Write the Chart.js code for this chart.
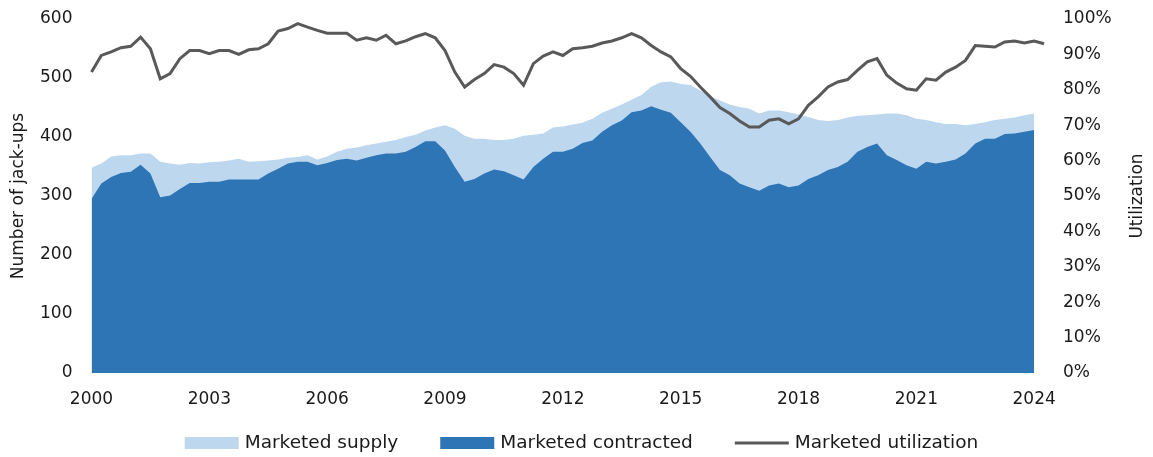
<!DOCTYPE html>
<html>
<head>
<meta charset="utf-8">
<script src="https://cdn.jsdelivr.net/npm/chart.js@4"></script>
<style>
  html, body { margin: 0; padding: 0; background: #fff; }
  #wrap { width: 1153px; height: 457px; position: relative; }
</style>
</head>
<body>
<div id="wrap"><canvas id="chart"></canvas></div>
<script>
/* Jack-up fleet: marketed supply vs contracted, plus utilization (quarterly) */

const FONT = "Verdana, 'DejaVu Sans', sans-serif";
const C = { supply: "#BDD7EE", contracted: "#2E75B6", util: "#595959", ink: "#1a1a1a" };

// quarters 2000Q1 .. 2024Q2
const QUARTERS = [];
for (let y = 2000; y <= 2024; y++) {
  for (let q = 1; q <= 4; q++) {
    if (y === 2024 && q > 2) break;
    QUARTERS.push(y + " Q" + q);
  }
}
const YEAR_TICKS = ["2000", "2003", "2006", "2009", "2012", "2015", "2018", "2021", "2024"];

// number of jack-ups, marketed supply (ends 2024 Q1)
const SUPPLY = [
  348, 355, 367, 369, 369, 372, 372, 358, 355, 353, 356, 355, 357, 358,
  360, 363, 358, 359, 360, 362, 365, 366, 369, 362, 367, 375, 380, 382,
  386, 389, 392, 395, 400, 404, 411, 416, 420, 414, 402, 397, 397, 395,
  395, 397, 402, 404, 406, 416, 418, 421, 424, 431, 441, 448, 455, 463,
  471, 485, 493, 494, 490, 488, 479, 469, 462, 455, 451, 448, 440, 445,
  445, 442, 438, 434, 429, 427, 429, 433, 436, 437, 438, 440, 440, 437,
  431, 429, 425, 422, 422, 420, 422, 425, 429, 431, 433, 437, 440, null,
];

// number of jack-ups, marketed contracted
const CONTRACTED = [
  295, 321, 332, 339, 341, 353, 338, 298, 301, 312, 322, 322, 324, 324,
  328, 328, 328, 328, 338, 346, 355, 358, 358, 352, 356, 361, 363, 360,
  365, 369, 372, 372, 375, 383, 393, 393, 377, 349, 324, 329, 338, 345,
  342, 335, 328, 349, 363, 375, 375, 380, 390, 394, 409, 420, 428, 442,
  445, 452, 446, 441, 425, 409, 389, 366, 344, 335, 321, 315, 309, 318,
  321, 315, 318, 329, 335, 344, 349, 358, 375, 383, 389, 369, 361, 352,
  346, 358, 355, 358, 362, 372, 389, 397, 397, 405, 406, 409, 412, null,
];

// marketed utilization, %
const UTILIZATION = [
  85.0, 89.7, 90.7, 91.9, 92.3, 94.9, 91.6, 83.1, 84.6, 88.8, 91.1, 91.1, 90.2, 91.1,
  91.1, 90.0, 91.3, 91.6, 93.0, 96.6, 97.3, 98.7, 97.7, 96.8, 96.0, 96.0, 96.0, 94.0,
  94.7, 94.0, 95.4, 93.0, 93.8, 95.0, 95.9, 94.7, 91.1, 85.0, 80.8, 82.9, 84.6, 87.1,
  86.4, 84.6, 81.3, 87.4, 89.5, 90.7, 89.7, 91.6, 91.9, 92.3, 93.2, 93.8, 94.7, 95.9,
  94.7, 92.5, 90.7, 89.3, 86.0, 83.8, 80.8, 78.0, 75.0, 73.3, 71.2, 69.5, 69.5, 71.4,
  71.8, 70.4, 71.8, 75.6, 78.0, 80.8, 82.2, 82.9, 85.5, 87.9, 88.8, 84.1, 81.9, 80.3,
  79.9, 83.1, 82.7, 85.0, 86.4, 88.3, 92.5, 92.3, 92.1, 93.5, 93.8, 93.2, 93.8, 93.0,
];

const LEFT_TICKS = { min: 0, max: 600, step: 100 };
const RIGHT_TICKS = { min: 0, max: 100, step: 10 };

// right-hand axis title reads bottom-to-top in the original
const rightTitle = {
  id: "rightTitle",
  afterDraw(chart) {
    const { ctx, chartArea } = chart;
    ctx.save();
    ctx.translate(1138, (chartArea.top + chartArea.bottom) / 2);
    ctx.rotate(-Math.PI / 2);
    ctx.font = "17px " + FONT;
    ctx.fillStyle = C.ink;
    ctx.textAlign = "center";
    ctx.textBaseline = "middle";
    ctx.fillText("Utilization", 0, 0);
    ctx.restore();
  },
};

// one-row legend under the x axis: wide swatches, roomy gaps
const legendRow = {
  id: "legendRow",
  afterDraw(chart) {
    const { ctx } = chart;
    const SW = 54, GAP_TXT = 6, GAP_ITEM = 42, Y = 443;
    ctx.save();
    ctx.font = "18.5px " + FONT;
    const items = chart.data.datasets.map((ds) => ({ ds, w: SW + GAP_TXT + ctx.measureText(ds.label).width }));
    const total = items.reduce((s, it) => s + it.w, 0) + GAP_ITEM * (items.length - 1);
    let x = (chart.width - total) / 2 + 5;
    items.forEach(({ ds, w }) => {
      if (ds.fill) {
        ctx.fillStyle = ds.backgroundColor;
        ctx.fillRect(x, Y - 6, SW, 12);
      } else {
        ctx.strokeStyle = ds.borderColor;
        ctx.lineWidth = ds.borderWidth;
        ctx.beginPath(); ctx.moveTo(x, Y); ctx.lineTo(x + SW, Y); ctx.stroke();
      }
      ctx.fillStyle = C.ink;
      ctx.textAlign = "left";
      ctx.textBaseline = "middle";
      ctx.fillText(ds.label, x + SW + GAP_TXT, Y);
      x += w + GAP_ITEM;
    });
    ctx.restore();
  },
};

Chart.defaults.font.family = FONT;
Chart.defaults.font.size = 17;
Chart.defaults.color = C.ink;

new Chart(document.getElementById("chart"), {
  type: "line",
  data: {
    labels: QUARTERS,
    datasets: [
      {
        label: "Marketed supply", data: SUPPLY, yAxisID: "y",
        backgroundColor: C.supply, borderColor: C.supply, borderWidth: 0,
        fill: "origin", pointRadius: 0, tension: 0, order: 3,
      },
      {
        label: "Marketed contracted", data: CONTRACTED, yAxisID: "y",
        backgroundColor: C.contracted, borderColor: C.contracted, borderWidth: 0,
        fill: "origin", pointRadius: 0, tension: 0, order: 2,
      },
      {
        label: "Marketed utilization", data: UTILIZATION, yAxisID: "y2",
        borderColor: C.util, backgroundColor: C.util, borderWidth: 3,
        fill: false, pointRadius: 0, tension: 0, order: 1,
      },
    ],
  },
  options: {
    responsive: true, maintainAspectRatio: false, animation: false,
    layout: { padding: { top: 19, bottom: 44 } },
    plugins: {
      legend: { display: false },
      tooltip: { enabled: false },
    },
    scales: {
      x: {
        grid: { display: false, drawTicks: false },
        border: { display: false },
        ticks: {
          autoSkip: false, maxRotation: 0, padding: 16,
          callback(v, i) {
            const [yr, q] = QUARTERS[i].split(" ");
            return q === "Q1" && YEAR_TICKS.includes(yr) ? yr : "";
          },
        },
        afterFit(s) { s.height = 40; },
      },
      y: {
        position: "left", min: LEFT_TICKS.min, max: LEFT_TICKS.max,
        grid: { display: false, drawTicks: true, tickLength: 16 },
        border: { display: false },
        ticks: { stepSize: LEFT_TICKS.step, padding: 3 },
        title: {
          display: true, text: "Number of jack-ups",
          font: { size: 17 }, padding: { top: 8, bottom: 9 },
        },
        afterFit(s) { s.width = 91.5; },
      },
      y2: {
        position: "right", min: RIGHT_TICKS.min, max: RIGHT_TICKS.max,
        grid: { display: false, drawTicks: true, tickLength: 16 },
        border: { display: false },
        ticks: { stepSize: RIGHT_TICKS.step, padding: 3, callback: (v) => v + "%" },
        afterFit(s) { s.width = 109; },
      },
    },
  },
  plugins: [rightTitle, legendRow],
});
</script>
</body>
</html>
